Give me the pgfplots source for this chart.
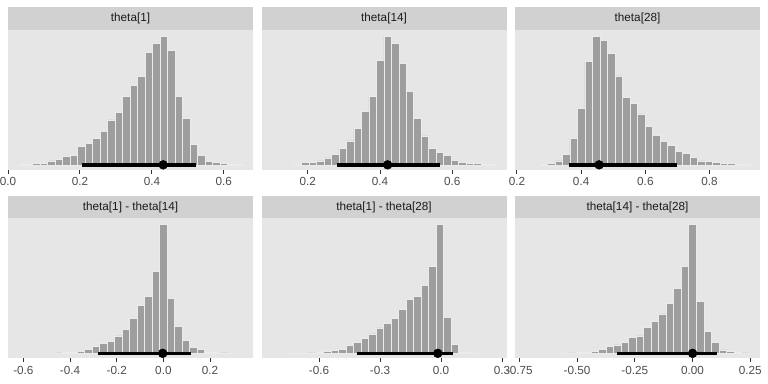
\documentclass[border=0pt]{standalone}
\usepackage{fontspec}
\setmainfont{Liberation Sans}
\usepackage{pgfplots}
\pgfplotsset{compat=1.18}
\definecolor{panelbg}{HTML}{E6E6E6}
\definecolor{stripbg}{HTML}{D1D1D1}
\definecolor{barfill}{HTML}{9E9E9E}
\definecolor{barline}{HTML}{EBEBEB}
\definecolor{labcol}{HTML}{4D4D4D}
\definecolor{tickcol}{HTML}{333333}
\definecolor{striptext}{HTML}{1A1A1A}
\pgfplotsset{
  every axis title/.style={at={(0.5,1)}, anchor=south, fill=stripbg,
      minimum width=183.75pt, minimum height=16.875pt, inner sep=0pt,
      font=\fontsize{8.8}{10}\selectfont, text=striptext},
  facet/.style={
    scale only axis, width=183.75pt, height=105pt,
    anchor=north west,
    axis background/.style={fill=panelbg},
    axis line style={draw=none},
    ymin=-0.04, ymax=1.047, ytick=\empty,
    tick align=outside, xtick pos=lower,
    major tick length=2.75pt,
    tick style={draw=tickcol, line width=0.7pt},
    xticklabel style={font=\fontsize{8.8}{10}\selectfont, text=labcol, inner sep=0pt},
    xticklabel shift=2.6pt,
    clip=false,
  },
  hbar/.style={ybar, bar shift=0pt, fill=barfill, draw=barline, line width=0.5pt, bar width=#1},
  ival/.style={black, line width=2.6pt, no marks},
  ipt/.style={only marks, mark=*, mark size=3.3pt, black},
}
\begin{document}
\begin{tikzpicture}
% ---------- theta[1]
\begin{axis}[facet, at={(6pt,-22.5pt)}, title={theta[1]},
  xmin=0, xmax=0.681, xtick={0,0.2,0.4,0.6}, xticklabels={0.0,0.2,0.4,0.6}]
\addplot[hbar=0.0208] coordinates {
(0.0378,0.003)(0.0586,0.005)(0.0794,0.008)(0.1002,0.012)(0.1210,0.031)(0.1418,0.044)
(0.1626,0.065)(0.1834,0.075)(0.2042,0.140)(0.2250,0.168)(0.2458,0.204)(0.2666,0.258)
(0.2874,0.349)(0.3082,0.406)(0.3290,0.532)(0.3498,0.618)(0.3706,0.687)(0.3914,0.873)
(0.4122,0.943)(0.4330,1.000)(0.4538,0.891)(0.4746,0.530)(0.4954,0.362)(0.5162,0.160)
(0.5370,0.070)(0.5578,0.026)(0.5786,0.016)(0.5994,0.008)(0.6202,0.003)(0.6410,0.002)};
\addplot[ival] coordinates {(0.2046,0) (0.522,0)};
\addplot[ipt] coordinates {(0.4315,0)};
\end{axis}
% ---------- theta[14]
\begin{axis}[facet, at={(196.125pt,-22.5pt)}, title={theta[14]},
  xmin=0.072, xmax=0.750, xtick={0.2,0.4,0.6}, xticklabels={0.2,0.4,0.6}]
\addplot[hbar=0.0207] coordinates {
(0.1726,0.005)(0.1933,0.018)(0.2140,0.016)(0.2347,0.031)(0.2554,0.054)(0.2761,0.078)
(0.2968,0.129)(0.3175,0.186)(0.3382,0.282)(0.3589,0.413)(0.3796,0.530)(0.4003,0.814)
(0.4210,1.000)(0.4417,0.943)(0.4624,0.788)(0.4831,0.568)(0.5038,0.362)(0.5245,0.225)
(0.5452,0.129)(0.5659,0.096)(0.5866,0.070)(0.6073,0.036)(0.6280,0.021)(0.6487,0.010)
(0.6694,0.008)(0.6901,0.005)(0.7108,0.003)};
\addplot[ival] coordinates {(0.281,0) (0.567,0)};
\addplot[ipt] coordinates {(0.421,0)};
\end{axis}
% ---------- theta[28]
\begin{axis}[facet, at={(386.25pt,-22.5pt)}, title={theta[28]},
  xmin=0.194, xmax=0.957, xtick={0.2,0.4,0.6,0.8}, xticklabels={0.2,0.4,0.6,0.8}]
\addplot[hbar=0.0234] coordinates {
(0.2832,0.003)(0.3066,0.010)(0.3300,0.031)(0.3534,0.083)(0.3768,0.204)(0.4002,0.439)
(0.4236,0.801)(0.4470,1.000)(0.4704,0.969)(0.4938,0.866)(0.5172,0.690)(0.5406,0.525)
(0.5640,0.478)(0.5874,0.395)(0.6108,0.297)(0.6342,0.230)(0.6576,0.181)(0.6810,0.150)
(0.7044,0.103)(0.7278,0.090)(0.7512,0.057)(0.7746,0.031)(0.7980,0.026)(0.8214,0.018)
(0.8448,0.010)(0.8682,0.008)(0.8916,0.005)(0.9150,0.003)};
\addplot[ival] coordinates {(0.363,0) (0.6975,0)};
\addplot[ipt] coordinates {(0.456,0)};
\end{axis}
% ---------- theta[1] - theta[14]
\begin{axis}[facet, at={(6pt,-163.875pt)}, title={theta[1] - theta[14]},
  xmin=-0.666, xmax=0.384, xtick={-0.6,-0.4,-0.2,0,0.2}, xticklabels={-0.6,-0.4,-0.2,0.0,0.2}]
\addplot[hbar=0.0321] coordinates {
(-0.4494,0.003)(-0.4173,0.005)(-0.3852,0.010)(-0.3531,0.016)(-0.3210,0.031)(-0.2889,0.057)
(-0.2568,0.078)(-0.2247,0.094)(-0.1926,0.135)(-0.1605,0.187)(-0.1284,0.274)(-0.0963,0.369)
(-0.0642,0.441)(-0.0321,0.636)(0.0000,1.000)(0.0321,0.429)(0.0642,0.208)(0.0963,0.099)
(0.1284,0.044)(0.1605,0.031)(0.1926,0.010)(0.2247,0.005)(0.2568,0.003)(0.2889,0.001)};
\addplot[ival] coordinates {(-0.279,0) (0.119,0)};
\addplot[ipt] coordinates {(-0.003,0)};
\end{axis}
% ---------- theta[1] - theta[28]
\begin{axis}[facet, at={(196.125pt,-163.875pt)}, title={theta[1] - theta[28]},
  xmin=-0.883, xmax=0.322, xtick={-0.6,-0.3,0,0.3}, xticklabels={-0.6,-0.3,0.0,0.3}]
\addplot[hbar=0.0369] coordinates {
(-0.7430,0.001)(-0.7061,0.001)(-0.6692,0.002)(-0.6323,0.003)(-0.5954,0.005)(-0.5585,0.016)
(-0.5216,0.021)(-0.4847,0.031)(-0.4478,0.060)(-0.4109,0.086)(-0.3740,0.117)(-0.3371,0.151)
(-0.3002,0.197)(-0.2633,0.234)(-0.2264,0.273)(-0.1895,0.338)(-0.1526,0.421)(-0.1157,0.442)
(-0.0788,0.527)(-0.0419,0.675)(-0.0050,1.000)(0.0319,0.281)(0.0688,0.070)(0.1057,0.010)
(0.1426,0.005)(0.1795,0.002)};
\addplot[ival] coordinates {(-0.413,0) (0.060,0)};
\addplot[ipt] coordinates {(-0.016,0)};
\end{axis}
% ---------- theta[14] - theta[28]
\begin{axis}[facet, at={(386.25pt,-163.875pt)}, title={theta[14] - theta[28]},
  xmin=-0.769, xmax=0.292, xtick={-0.75,-0.5,-0.25,0,0.25}, xticklabels={-0.75,-0.50,-0.25,0.00,0.25}]
\addplot[hbar=0.0325] coordinates {
(-0.5525,0.002)(-0.5200,0.003)(-0.4875,0.005)(-0.4550,0.010)(-0.4225,0.013)(-0.3900,0.031)
(-0.3575,0.052)(-0.3250,0.065)(-0.2925,0.083)(-0.2600,0.125)(-0.2275,0.135)(-0.1950,0.200)
(-0.1625,0.247)(-0.1300,0.306)(-0.0975,0.390)(-0.0650,0.501)(-0.0325,0.675)(0.0000,1.000)
(0.0325,0.405)(0.0650,0.169)(0.0975,0.083)(0.1300,0.026)(0.1625,0.018)(0.1950,0.005)
(0.2275,0.003)};
\addplot[ival] coordinates {(-0.326,0) (0.106,0)};
\addplot[ipt] coordinates {(0.0,0)};
\end{axis}
\pgfresetboundingbox
\path[use as bounding box] (0,0) rectangle (576pt,-288pt);
\end{tikzpicture}
\end{document}
